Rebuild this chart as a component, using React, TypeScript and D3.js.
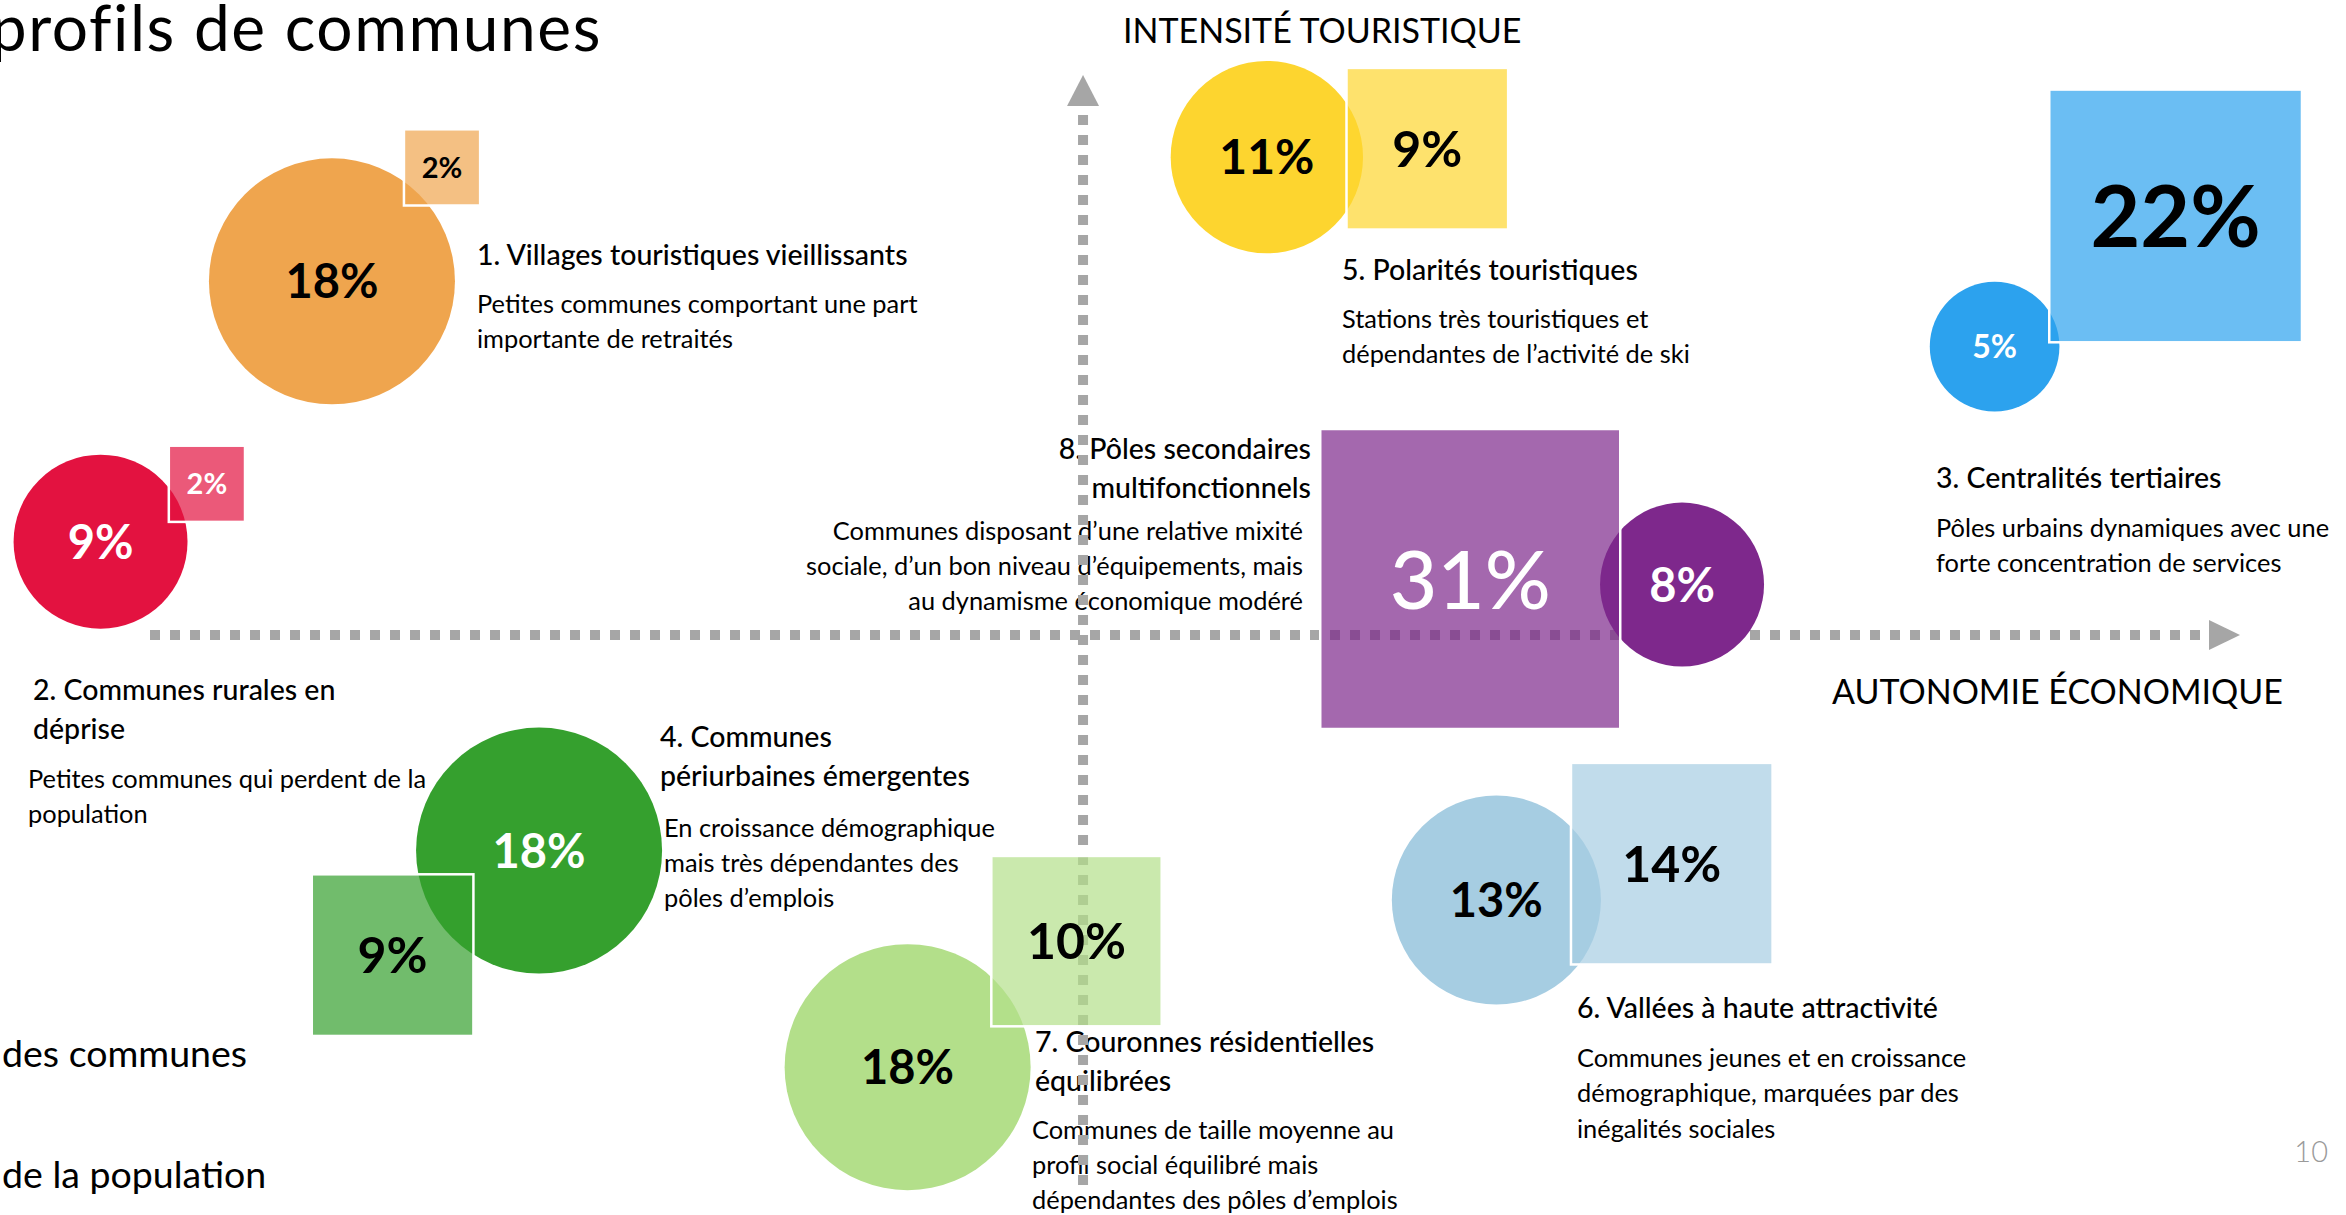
import React, { useEffect, useRef } from "react";
import * as d3 from "d3";

// profils (numbered 1..8)
const profileTitles = [
  ["1. Villages touristiques vieillissants"],
  ["2. Communes rurales en", "déprise"],
  ["3. Centralités tertiaires"],
  ["4. Communes", "périurbaines émergentes"],
  ["5. Polarités touristiques"],
  ["6. Vallées à haute attractivité"],
  ["7. Couronnes résidentielles", "équilibrées"],
  ["8. Pôles secondaires", "multifonctionnels"],
];

const profileTexts = [
  ["Petites communes comportant une part", "importante de retraités"],
  ["Petites communes qui perdent de la", "population"],
  ["Pôles urbains dynamiques avec une", "forte concentration de services"],
  ["En croissance démographique", "mais très dépendantes des", "pôles d’emplois"],
  ["Stations très touristiques et", "dépendantes de l’activité de ski"],
  ["Communes jeunes et en croissance", "démographique, marquées par des", "inégalités sociales"],
  ["Communes de taille moyenne au", "profil social équilibré mais", "dépendantes des pôles d’emplois"],
  [
    "Communes disposant d’une relative mixité",
    "sociale, d’un bon niveau d’équipements, mais",
    "au dynamisme économique modéré",
  ],
];

// % des communes (cercles) et % de la population (carrés)
const communesShare = [18, 9, 5, 18, 11, 13, 18, 8];
const populationShare = [2, 2, 22, 9, 9, 14, 10, 31];

// place on the two axes (autonomie économique / intensité touristique)
const communesAutonomy = [-8.05, -10.53, 9.77, -5.83, 1.97, 4.43, -1.88, 6.42];
const communesTourism = [3.79, 1.0, 3.09, -2.31, 5.12, -2.84, -4.63, 0.54];
const populationAutonomy = [-6.87, -9.39, 11.71, -7.4, 3.69, 6.31, -0.07, 4.15];
const populationTourism = [5.01, 1.62, 4.49, -3.43, 5.21, -2.45, -3.28, 0.6];

const axisLabels = ["AUTONOMIE ÉCONOMIQUE", "INTENSITÉ TOURISTIQUE"];
const legendLabels = ["des communes", "de la population"];
const chartTitle = "profils de communes";
const pageNumber = "10";

// styles
const colors = ["#EFA54E", "#E31240", "#2CA2EE", "#35A02E", "#FDD52F", "#A6CDE2", "#B3DF8A", "#7E288C"];
const circleInk = ["#000", "#fff", "#fff", "#fff", "#000", "#000", "#000", "#fff"];
const squareInk = ["#000", "#fff", "#000", "#000", "#000", "#000", "#000", "#fff"];
const circleFont = [47, 47, 32, 47, 48, 47, 47, 47];
const squareFont = [29, 29, 86, 50, 50, 50, 50, 82];
const squareWeight = [700, 700, 700, 700, 700, 700, 700, 500];

// where each description block sits
const notes = [
  { x: 477, y: 265, anchor: "start", gap: 48, dx: 0 },
  { x: 33, y: 700, anchor: "start", gap: 49, dx: -5 },
  { x: 1936, y: 488, anchor: "start", gap: 49, dx: 0 },
  { x: 660, y: 747, anchor: "start", gap: 51, dx: 4 },
  { x: 1342, y: 280, anchor: "start", gap: 48, dx: 0 },
  { x: 1577, y: 1018, anchor: "start", gap: 49, dx: 0 },
  { x: 1035, y: 1052, anchor: "start", gap: 48, dx: -3 },
  { x: 1311, y: 459, anchor: "end", gap: 42, dx: -8 },
];

const FONT = "Lato, 'Open Sans', sans-serif";
const GREY = "#A6A6A6";

export default function App() {
  const ref = useRef<SVGSVGElement>(null);

  useEffect(() => {
    draw();
  }, []);

  let draw = () => {
    let width = 2346;
    let height = 1215;
    let svg = d3.select(ref.current);
    svg.selectAll("*").remove();
    svg.attr("width", width).attr("height", height);

    let x = d3.scaleLinear().domain([-10, 12.4]).range([150, 2240]);
    let y = d3.scaleLinear().domain([-6, 6]).range([1195, 75]);
    let r = d3.scaleSqrt().domain([0, 18]).range([0, 123]);
    let side = d3.scaleSqrt().domain([0, 31]).range([0, 300]);

    let data = communesShare.map((c, i) => ({
      i,
      communes: c,
      population: populationShare[i],
      cx: communesAutonomy[i],
      cy: communesTourism[i],
      sx: populationAutonomy[i],
      sy: populationTourism[i],
    }));

    // title + legend + page number
    svg
      .append("text")
      .attr("x", 602)
      .attr("y", 51)
      .attr("text-anchor", "end")
      .attr("font-family", FONT)
      .attr("font-size", 64)
      .attr("letter-spacing", 1.6)
      .text(chartTitle);

    svg
      .selectAll("legend")
      .data(legendLabels)
      .enter()
      .append("text")
      .attr("x", 2)
      .attr("y", (d, i) => 1067 + i * 121)
      .attr("font-family", FONT)
      .attr("font-size", 37.5)
      .text((d) => d);

    svg
      .append("text")
      .attr("x", 2328)
      .attr("y", 1162)
      .attr("text-anchor", "end")
      .attr("font-family", FONT)
      .attr("font-weight", 300)
      .attr("font-size", 29)
      .attr("fill", "#9A9A9A")
      .text(pageNumber);

    // descriptions
    let noteG = svg.append("g").attr("font-family", FONT).attr("fill", "#000");
    notes.forEach((n, i) => {
      let titles = profileTitles[i];
      titles.forEach((t, k) => {
        noteG
          .append("text")
          .attr("x", n.x)
          .attr("y", n.y + k * 38.5)
          .attr("text-anchor", n.anchor)
          .attr("font-size", 28.5)
          .attr("font-weight", 500)
          .text(t);
      });
      let top = n.y + (titles.length - 1) * 38.5 + n.gap;
      profileTexts[i].forEach((t, k) => {
        noteG
          .append("text")
          .attr("x", n.x + n.dx)
          .attr("y", top + k * 35.3)
          .attr("text-anchor", n.anchor)
          .attr("font-size", 25.4)
          .text(t);
      });
    });

    // axes
    let x0 = x(0);
    let y0 = y(0);
    let axis = svg.append("g");
    axis
      .append("line")
      .attr("x1", x(-10))
      .attr("x2", x(12.4) - 35)
      .attr("y1", y0)
      .attr("y2", y0)
      .attr("stroke", GREY)
      .attr("stroke-width", 10)
      .attr("stroke-dasharray", "10 10");
    axis
      .append("path")
      .attr("d", `M${x(12.4)},${y0} L${x(12.4) - 31},${y0 - 15} L${x(12.4) - 31},${y0 + 15} Z`)
      .attr("fill", GREY);
    axis
      .append("line")
      .attr("x1", x0)
      .attr("x2", x0)
      .attr("y1", y(6) + 40)
      .attr("y2", y(-6))
      .attr("stroke", GREY)
      .attr("stroke-width", 10)
      .attr("stroke-dasharray", "10 10");
    axis
      .append("path")
      .attr("d", `M${x0},${y(6)} L${x0 - 16},${y(6) + 31} L${x0 + 16},${y(6) + 31} Z`)
      .attr("fill", GREY);

    let axisG = svg.append("g").attr("font-family", FONT).attr("font-size", 34).attr("fill", "#000");
    axisG.append("text").attr("x", 1832).attr("y", 704).text(axisLabels[0]);
    axisG.append("text").attr("x", 1123).attr("y", 43).text(axisLabels[1]);

    // circles = share of communes
    svg
      .selectAll("circles")
      .data(data)
      .enter()
      .append("circle")
      .attr("cx", (d) => x(d.cx))
      .attr("cy", (d) => y(d.cy))
      .attr("r", (d) => r(d.communes))
      .attr("fill", (d) => colors[d.i]);

    // squares = share of population
    svg
      .selectAll("squares")
      .data(data)
      .enter()
      .append("rect")
      .attr("x", (d) => x(d.sx) - side(d.population) / 2)
      .attr("y", (d) => y(d.sy) - side(d.population) / 2)
      .attr("width", (d) => side(d.population))
      .attr("height", (d) => side(d.population))
      .attr("fill", (d) => colors[d.i])
      .attr("fill-opacity", 0.7)
      .attr("stroke", "#fff")
      .attr("stroke-width", 2.5);

    svg
      .selectAll("circleLabels")
      .data(data)
      .enter()
      .append("text")
      .attr("x", (d) => x(d.cx))
      .attr("y", (d) => y(d.cy))
      .attr("dy", "0.36em")
      .attr("text-anchor", "middle")
      .attr("font-family", FONT)
      .attr("font-weight", 700)
      .attr("font-size", (d) => circleFont[d.i])
      .attr("fill", (d) => circleInk[d.i])
      .text((d) => d.communes + "%");

    svg
      .selectAll("squareLabels")
      .data(data)
      .enter()
      .append("text")
      .attr("x", (d) => x(d.sx))
      .attr("y", (d) => y(d.sy))
      .attr("dy", "0.36em")
      .attr("text-anchor", "middle")
      .attr("font-family", FONT)
      .attr("font-weight", (d) => squareWeight[d.i])
      .attr("font-size", (d) => squareFont[d.i])
      .attr("fill", (d) => squareInk[d.i])
      .text((d) => d.population + "%");
  };

  return (
    <svg
      ref={ref}
      style={{ position: "absolute", left: 0, top: 0, background: "#fff" }}
    ></svg>
  );
}
